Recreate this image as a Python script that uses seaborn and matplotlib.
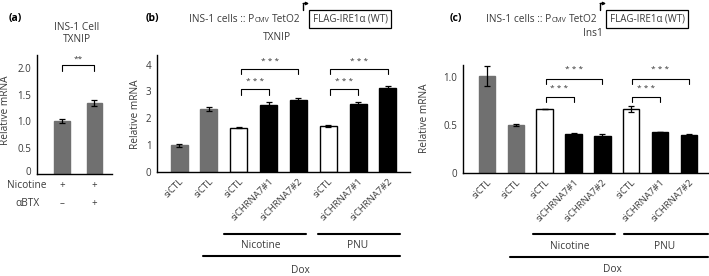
import numpy as np
import pandas as pd
import matplotlib
matplotlib.use("Agg")
import matplotlib.pyplot as plt
from matplotlib.lines import Line2D
from matplotlib.transforms import ScaledTranslation
import seaborn as sns

# ---- data ----
a_vals = [1.0, 1.34]
a_err = [0.04, 0.05]
a_kind = ["gray", "gray"]
a_nicotine = ["+", "+"]
a_abtx = ["–", "+"]

bc_labels = ["siCTL", "siCTL", "siCTL", "siCHRNA7#1", "siCHRNA7#2",
             "siCTL", "siCHRNA7#1", "siCHRNA7#2"]
bc_kind = ["gray", "gray", "white", "black", "black", "white", "black", "black"]

b_vals = [1.0, 2.35, 1.65, 2.48, 2.68, 1.72, 2.52, 3.13]
b_err = [0.05, 0.09, 0.02, 0.12, 0.06, 0.05, 0.1, 0.07]

c_vals = [1.01, 0.50, 0.67, 0.41, 0.39, 0.67, 0.43, 0.40]
c_err = [0.10, 0.01, 0.0, 0.01, 0.02, 0.03, 0.0, 0.01]

COLORS = {"gray": "#707070", "white": "#ffffff", "black": "#000000"}
EDGES = {"gray": "#707070", "white": "#000000", "black": "#000000"}
TXT = "#3a3a3a"

sns.set_style("white")
plt.rcParams["font.family"] = ["Open Sans", "DejaVu Sans"]
plt.rcParams["font.size"] = 6.5
plt.rcParams["text.color"] = TXT
plt.rcParams["axes.labelcolor"] = TXT
plt.rcParams["xtick.color"] = TXT
plt.rcParams["ytick.color"] = TXT

W, H = 709, 276
fig = plt.figure(figsize=(W / 100, H / 100), dpi=100)
renderer = fig.canvas.get_renderer()


def px_axes(l, r, t, b):
    return fig.add_axes([l / W, 1 - b / H, (r - l) / W, (b - t) / H])


def draw_bars(ax, vals, errs, kinds, width):
    df = pd.DataFrame({"pos": np.arange(len(vals)), "val": vals, "kind": kinds})
    sns.barplot(data=df, x="pos", y="val", hue="kind", palette=COLORS,
                dodge=False, width=width, legend=False, ax=ax, linewidth=1)
    # edge colour per fill colour
    for bar in ax.patches:
        fc = matplotlib.colors.to_hex(bar.get_facecolor())
        for k, c in COLORS.items():
            if fc == c:
                bar.set_edgecolor(EDGES[k])
    ax.errorbar(df["pos"], df["val"], yerr=errs, fmt="none", ecolor="black",
                elinewidth=0.9, capsize=2.5, capthick=0.9)
    sns.despine(ax=ax)
    for s in ["left", "bottom"]:
        ax.spines[s].set_color("black")
        ax.spines[s].set_linewidth(1.0)
    ax.tick_params(axis="y", direction="in", length=2, width=0.8, pad=4, labelsize=7)
    ax.tick_params(axis="x", length=0)
    ax.set_xlabel("")
    ax.set_ylabel("")


def bracket(ax, x0, x1, y, drop, txt, ty, fs=6):
    ax.plot([x0, x0, x1, x1], [y - drop, y, y, y - drop], color="black", lw=0.8,
            clip_on=False)
    ax.text((x0 + x1) / 2, ty, txt, ha="center", va="center", fontsize=fs,
            color=TXT)


def header(x_text, y=19):
    # "INS-1 cells :: P(CMV) TetO2 [FLAG-IRE1α (WT)]" laid out piece by piece
    t1 = fig.text(x_text / W, 1 - y / H, "INS-1 cells :: P", fontsize=7.3, va="center")
    x = t1.get_window_extent(renderer).x1 + 0.5
    t2 = fig.text(x / W, 1 - (y + 1) / H, "CMV", fontsize=5, va="center")
    x = t2.get_window_extent(renderer).x1 + 2.5
    t3 = fig.text(x / W, 1 - y / H, "TetO2", fontsize=7.3, va="center")
    x = t3.get_window_extent(renderer).x1
    fig.text((x + 12) / W, 1 - y / H, "FLAG-IRE1α (WT)", fontsize=7, va="center",
             bbox=dict(boxstyle="square,pad=0.35", fc="none", ec="black", lw=0.9))
    xa = x + 2.5
    fig.add_artist(Line2D([xa / W, xa / W], [1 - 10 / H, 1 - 3.5 / H],
                          color="black", lw=1))
    fig.add_artist(matplotlib.patches.FancyArrowPatch(
        (xa / W, 1 - 3.5 / H), ((xa + 6) / W, 1 - 3.5 / H),
        transform=fig.transFigure, arrowstyle="-|>", mutation_scale=4,
        color="black", lw=1, shrinkA=0, shrinkB=0))


# ---- panel (a) ----
axa = px_axes(37, 112, 55, 174)
draw_bars(axa, a_vals, a_err, a_kind, 0.47)
axa.set_xlim(-0.78, 1.56)
axa.set_ylim(0, 2.25)
axa.set_yticks([0, 0.5, 1.0, 1.5, 2.0], ["0", "0.5", "1.0", "1.5", "2.0"])
axa.set_xticks([])
lab0 = axa.get_yticklabels()[0]
lab0.set_transform(lab0.get_transform() + ScaledTranslation(0, 0.03, fig.dpi_scale_trans))
bracket(axa, 0, 1, 2.06, 0.11, "**", 2.17)
tr = axa.get_xaxis_transform()
axa.text(-0.47, -0.095, "Nicotine", transform=tr, ha="right", va="center", fontsize=7.3)
axa.text(-0.7, -0.245, "αBTX", transform=tr, ha="right", va="center", fontsize=7.3)
for x, s1, s2 in zip(range(2), a_nicotine, a_abtx):
    axa.text(x, -0.095, s1, transform=tr, ha="center", va="center", fontsize=7)
    axa.text(x, -0.245, s2, transform=tr, ha="center", va="center", fontsize=7)
fig.text(77 / W, 1 - 27 / H, "INS-1 Cell", ha="center", va="center", fontsize=7.3)
fig.text(77 / W, 1 - 40 / H, "TXNIP", ha="center", va="center", fontsize=7.3)
fig.text(6 / W, 1 - 110 / H, "Relative mRNA", rotation=90, ha="center", va="center", fontsize=7.3)
fig.text(9 / W, 1 - 19 / H, "(a)", fontweight="bold", color="black", va="center", fontsize=7.5)

# ---- panel (b) ----
axb = px_axes(157, 410, 55, 172)
draw_bars(axb, b_vals, b_err, bc_kind, 0.57)
axb.set_xlim(-0.74, 7.74)
axb.set_ylim(0, 4.36)
axb.set_yticks([0, 1, 2, 3, 4])
axb.set_xticks(range(8))
axb.set_xticklabels(bc_labels, rotation=45, ha="right", rotation_mode="anchor",
                    fontsize=6.8)
for g0 in (2, 5):
    bracket(axb, g0 + 0.07, g0 + 2, 3.84, 0.2, "* * *", 4.12)
    bracket(axb, g0 + 0.07, g0 + 1, 3.08, 0.2, "* * *", 3.36)
tr = axb.get_xaxis_transform()
axb.plot([1.5, 4.25], [-0.53, -0.53], transform=tr, color="black", lw=1.5, clip_on=False)
axb.plot([4.65, 7.39], [-0.53, -0.53], transform=tr, color="black", lw=1.5, clip_on=False)
axb.plot([0.8, 7.39], [-0.72, -0.72], transform=tr, color="black", lw=1.5, clip_on=False)
axb.text(2.74, -0.63, "Nicotine", transform=tr, ha="center", va="center", fontsize=7.3)
axb.text(5.99, -0.63, "PNU", transform=tr, ha="center", va="center", fontsize=7.3)
axb.text(4.05, -0.84, "Dox", transform=tr, ha="center", va="center", fontsize=7.3)
fig.text(277 / W, 1 - 38 / H, "TXNIP", ha="center", va="center", fontsize=7.3)
fig.text(136 / W, 1 - 114 / H, "Relative mRNA", rotation=90, ha="center", va="center", fontsize=7.3)
fig.text(146 / W, 1 - 19 / H, "(b)", fontweight="bold", color="black", va="center", fontsize=7.5)
header(189)

# ---- panel (c) ----
axc = px_axes(463, 708, 65, 173)
draw_bars(axc, c_vals, c_err, bc_kind, 0.57)
axc.set_xlim(-0.83, 7.66)
axc.set_ylim(0, 1.125)
axc.set_yticks([0, 0.5, 1.0], ["0", "0.5", "1.0"])
axc.set_xticks(range(8))
axc.set_xticklabels(bc_labels, rotation=45, ha="right", rotation_mode="anchor",
                    fontsize=6.8)
for g0 in (2, 5):
    bracket(axc, g0 + 0.03, g0 + 2, 0.98, 0.05, "* * *", 1.08)
    bracket(axc, g0 + 0.03, g0 + 1, 0.79, 0.05, "* * *", 0.885)
tr = axc.get_xaxis_transform()
axc.plot([1.59, 4.44], [-0.565, -0.565], transform=tr, color="black", lw=1.5, clip_on=False)
axc.plot([4.75, 7.66], [-0.565, -0.565], transform=tr, color="black", lw=1.5, clip_on=False)
axc.plot([0.8, 7.66], [-0.78, -0.78], transform=tr, color="black", lw=1.5, clip_on=False)
axc.text(2.88, -0.68, "Nicotine", transform=tr, ha="center", va="center", fontsize=7.3)
axc.text(6.17, -0.68, "PNU", transform=tr, ha="center", va="center", fontsize=7.3)
axc.text(4.33, -0.89, "Dox", transform=tr, ha="center", va="center", fontsize=7.3)
fig.text(593 / W, 1 - 34 / H, "Ins1", ha="center", va="center", fontsize=7.3)
fig.text(425 / W, 1 - 118 / H, "Relative mRNA", rotation=90, ha="center", va="center", fontsize=7.3)
fig.text(450 / W, 1 - 19 / H, "(c)", fontweight="bold", color="black", va="center", fontsize=7.5)
header(486)

fig.savefig("out.png", dpi=100, facecolor="white")
